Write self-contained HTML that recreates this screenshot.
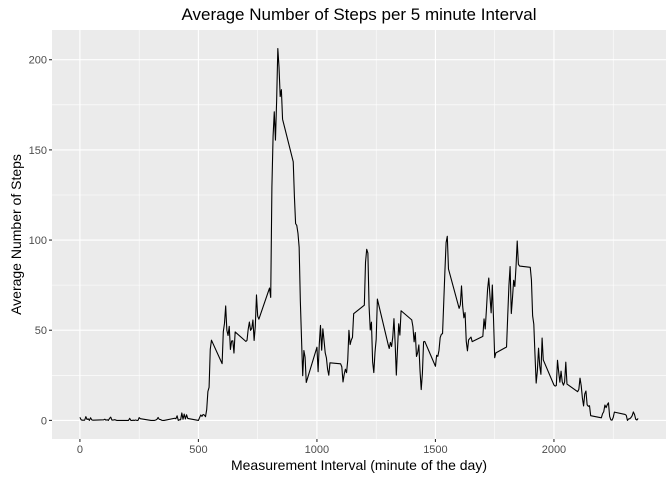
<!DOCTYPE html>
<html><head><meta charset="utf-8"><style>
body{margin:0;background:#fff;font-family:"Liberation Sans",sans-serif}
</style></head><body>
<svg width="672" height="480" xmlns="http://www.w3.org/2000/svg">
<g id="root"></g>
</svg>
<script>
const intervals=[0,5,10,15,20,25,30,35,40,45,50,55,100,105,110,115,120,125,130,135,140,145,150,155,200,205,210,215,220,225,230,235,240,245,250,255,300,305,310,315,320,325,330,335,340,345,350,355,400,405,410,415,420,425,430,435,440,445,450,455,500,505,510,515,520,525,530,535,540,545,550,555,600,605,610,615,620,625,630,635,640,645,650,655,700,705,710,715,720,725,730,735,740,745,750,755,800,805,810,815,820,825,830,835,840,845,850,855,900,905,910,915,920,925,930,935,940,945,950,955,1000,1005,1010,1015,1020,1025,1030,1035,1040,1045,1050,1055,1100,1105,1110,1115,1120,1125,1130,1135,1140,1145,1150,1155,1200,1205,1210,1215,1220,1225,1230,1235,1240,1245,1250,1255,1300,1305,1310,1315,1320,1325,1330,1335,1340,1345,1350,1355,1400,1405,1410,1415,1420,1425,1430,1435,1440,1445,1450,1455,1500,1505,1510,1515,1520,1525,1530,1535,1540,1545,1550,1555,1600,1605,1610,1615,1620,1625,1630,1635,1640,1645,1650,1655,1700,1705,1710,1715,1720,1725,1730,1735,1740,1745,1750,1755,1800,1805,1810,1815,1820,1825,1830,1835,1840,1845,1850,1855,1900,1905,1910,1915,1920,1925,1930,1935,1940,1945,1950,1955,2000,2005,2010,2015,2020,2025,2030,2035,2040,2045,2050,2055,2100,2105,2110,2115,2120,2125,2130,2135,2140,2145,2150,2155,2200,2205,2210,2215,2220,2225,2230,2235,2240,2245,2250,2255,2300,2305,2310,2315,2320,2325,2330,2335,2340,2345,2350,2355];
const steps=[1.72,0.34,0.13,0.15,0.08,2.09,0.53,0.87,0,1.47,0.3,0.13,0.32,0.68,0.15,0.34,0,1.11,1.83,0.17,0.17,0.38,0.26,0,0,0,1.13,0,0,0.13,0,0.23,0,0,1.55,0.94,0,0,0,0,0.21,0.62,1.62,0.58,0.49,0.08,0,0,1.19,0.94,2.57,0,0.34,0.36,4.11,0.66,3.49,0.83,3.11,1.11,0,1.57,3,2.25,3.32,2.96,2.09,6.06,16.02,18.34,39.45,44.49,31.49,49.26,53.77,63.45,49.96,47.08,52.15,39.34,44.02,44.17,37.36,49.04,43.81,44.38,50.51,54.51,49.92,50.98,55.68,44.32,52.26,69.55,57.85,56.15,73.38,68.21,129.43,157.53,171.15,155.4,177.3,206.17,195.92,179.57,183.4,167.02,143.45,124.04,109.11,108.11,103.72,95.96,66.21,45.23,24.79,38.75,34.98,21.06,40.57,26.98,42.42,52.66,38.92,50.79,44.28,37.42,34.7,28.34,25.09,31.94,31.36,29.68,21.32,25.55,28.38,26.47,33.43,49.98,42.04,44.6,46.04,59.19,63.87,87.7,94.85,92.77,63.4,50.17,54.47,32.42,26.53,37.74,45.06,67.28,42.34,39.89,43.26,40.98,46.25,56.43,42.75,25.13,39.96,53.55,47.32,60.81,55.75,51.96,43.58,48.7,35.47,37.55,41.85,27.51,17.11,26.08,43.62,43.77,30.02,36.08,35.49,38.85,45.96,47.75,48.13,65.32,82.91,98.66,102.11,83.96,62.13,64.13,74.55,63.17,56.91,59.77,43.87,38.57,44.66,45.45,46.21,43.68,46.62,56.3,50.72,61.23,72.72,78.94,68.94,59.66,75.09,56.51,34.77,37.45,40.68,58.02,74.7,85.32,59.26,67.77,77.7,74.25,85.34,99.45,86.58,85.6,84.87,77.83,58.04,53.36,36.32,20.72,27.4,40.02,30.21,25.55,45.66,33.53,19.62,19.02,19.34,33.34,26.81,21.17,27.3,21.34,19.55,21.32,32.3,20.15,15.94,17.23,23.45,19.25,12.45,8.02,14.66,16.3,8.68,7.79,8.13,2.62,1.45,3.68,4.81,8.51,7.08,8.7,9.75,2.21,0.32,0.11,1.6,4.6,3.3,2.85,0,0.83,0.96,1.58,2.6,4.7,3.3,0.64,0.23,1.08];
const xTicks=[0,500,1000,1500,2000];
const yTicks=[0,50,100,150,200];
const PL=52,PR=666,PT=30,PB=439;
const xmin=-117.75,xmax=2472.75,ymin=-10.31,ymax=216.48;
const X=v=>PL+(v-xmin)/(xmax-xmin)*(PR-PL);
const Y=v=>PB-(v-ymin)/(ymax-ymin)*(PB-PT);
const NS="http://www.w3.org/2000/svg",root=document.getElementById('root');
function mk(t,a,txt){const e=document.createElementNS(NS,t);for(const k in a)e.setAttribute(k,a[k]);if(txt!=null)e.textContent=txt;root.appendChild(e);return e;}
let e=mk('rect',{x:PL,y:PT,width:PR-PL,height:PB-PT,fill:'#ebebeb'});


for(let i=0;i<xTicks.length-1;i++){const m=(xTicks[i]+xTicks[i+1])/2;e=mk('line',{x1:X(m),x2:X(m),y1:PT,y2:PB,stroke:'#fff','stroke-width':0.55});}
e=mk('line',{x1:X(-250),x2:X(-250),y1:PT,y2:PB,stroke:'#fff','stroke-width':0});
for(let i=0;i<yTicks.length-1;i++){const m=(yTicks[i]+yTicks[i+1])/2;e=mk('line',{x1:PL,x2:PR,y1:Y(m),y2:Y(m),stroke:'#fff','stroke-width':0.55});}
e=mk('line',{x1:PL,x2:PR,y1:Y(225),y2:Y(225),stroke:'#fff','stroke-width':0.55});
e=mk('line',{x1:X(2250),x2:X(2250),y1:PT,y2:PB,stroke:'#fff','stroke-width':0.55});
xTicks.forEach(t=>{e=mk('line',{x1:X(t),x2:X(t),y1:PT,y2:PB,stroke:'#fff','stroke-width':1.1});
e=mk('line',{x1:X(t),x2:X(t),y1:PB,y2:PB+3,stroke:'#333','stroke-width':1.1});
e=mk('text',{x:X(t),y:PB+14,'text-anchor':'middle','font-size':11,fill:'#4d4d4d'},t);});
yTicks.forEach(t=>{e=mk('line',{x1:PL,x2:PR,y1:Y(t),y2:Y(t),stroke:'#fff','stroke-width':1.1});
e=mk('line',{x1:PL-3,x2:PL,y1:Y(t),y2:Y(t),stroke:'#333','stroke-width':1.1});
e=mk('text',{x:PL-5,y:Y(t)+4,'text-anchor':'end','font-size':11,fill:'#4d4d4d'},t);});
let d=intervals.map((v,i)=>(i?'L':'M')+X(v).toFixed(2)+','+Y(steps[i]).toFixed(2)).join('');
e=mk('path',{d:d,fill:'none',stroke:'#000','stroke-width':1.1,'stroke-linejoin':'round'});


e=mk('text',{x:(PL+PR)/2,y:20,'text-anchor':'middle','font-size':17,fill:'#000'},'Average Number of Steps per 5 minute Interval');

e=mk('text',{x:(PL+PR)/2,y:470,'text-anchor':'middle','font-size':14,fill:'#000'},'Measurement Interval (minute of the day)');

e=mk('text',{x:0,y:0,'text-anchor':'middle','font-size':14,fill:'#000',transform:`translate(21,${(PT+PB)/2}) rotate(-90)`},'Average Number of Steps');

</script>
</body></html>
